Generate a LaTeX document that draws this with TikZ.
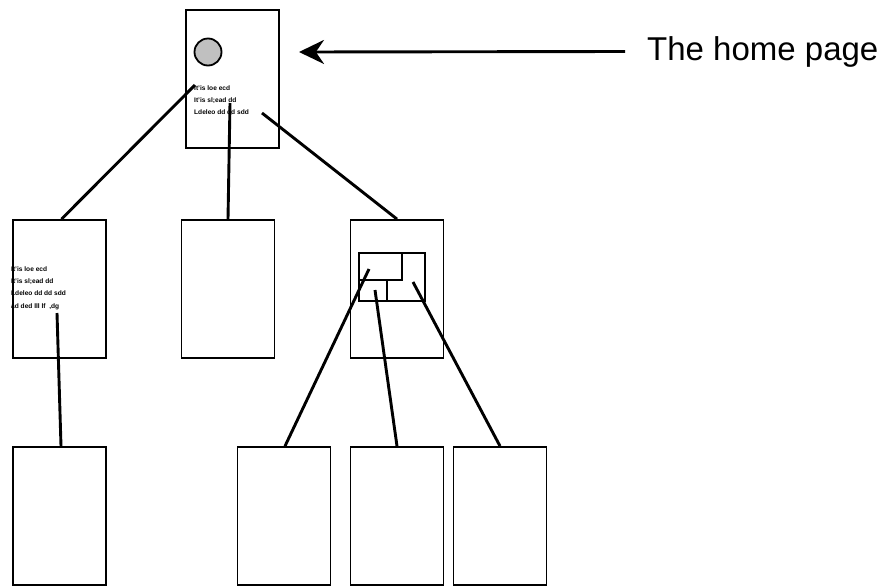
\documentclass[tikz,border=0pt]{standalone}
\usepackage{fontspec}
\setmainfont{Liberation Sans}
\usepackage{tikz}
\usetikzlibrary{arrows.meta}
\tikzset{>={Stealth[length=25pt,width=24pt]}}
\tikzset{
  page/.style={shape=rectangle,draw,line width=1.8pt,minimum width=93pt,minimum height=138pt,inner sep=0pt},
  cell/.style={shape=rectangle,draw,line width=1.8pt,inner sep=0pt},
  link/.style={line width=2.9pt},
  scribble/.style={anchor=north west,inner sep=0pt,align=left,font=\fontsize{6.6}{12.2}\selectfont\bfseries}
}
\definecolor{dotgray}{RGB}{192,192,192}

\begin{document}
\begin{tikzpicture}[x=1pt,y=-1pt]
\useasboundingbox (0,0) rectangle (888,587);

% the pages
\path (232.5,79) node [page] (home) {};
\path (59.5,289) node [page] (pageA) {};
\path (228,289) node [page] (pageB) {};
\path (397,289) node [page] (pageC) {};
\path (59.5,516) node [page] (pageAA) {};
\path (284,516) node [page] (pageCA) {};
\path (397,516) node [page] (pageCB) {};
\path (500,516) node [page] (pageCC) {};

% what is on them
\path (208,52) node [circle,draw,line width=1.8pt,fill=dotgray,minimum size=27pt,inner sep=0pt] (logo) {};
\path (194,85.5) node [scribble] (homeText) {It'is loe ecd\\It'is sl;ead dd\\Ldeleo dd dd sdd};
\path (11,266.5) node [scribble] (pageAText) {It'is loe ecd\\It'is sl;ead dd\\Ldeleo dd dd sdd\\ad ded lll lf \ ,dg};
\path (392,277) node [cell,minimum width=66pt,minimum height=48pt] (menu) {};
\path (380.5,266.5) node [cell,minimum width=43pt,minimum height=27pt] (menuA) {};
\draw [line width=1.8pt] (387,280) -- (387,301);

% where the links start
\coordinate (linkA) at (195,85);
\coordinate (linkB) at (230,103);
\coordinate (linkC) at (262,113);
\coordinate (linkAA) at (57,313);
\coordinate (linkCA) at (369,269);
\coordinate (linkCB) at (375,290);
\coordinate (linkCC) at (413,282);

\draw [link] (linkA) -- ([xshift=2pt]pageA.north);
\draw [link] (linkB) -- (pageB.north);
\draw [link] (linkC) -- (pageC.north);
\draw [link] (linkAA) -- ([xshift=1.5pt]pageAA.north);
\draw [link] (linkCA) -- ([xshift=1pt]pageCA.north);
\draw [link] (linkCB) -- (pageCB.north);
\draw [link] (linkCC) -- (pageCC.north);

% label
\path (625,51.5) node [anchor=west,inner xsep=22pt,inner ysep=0pt,font=\fontsize{33}{40}\selectfont] (homeLabel) {The home page};
\coordinate (tip) at (299,52);
\draw [link,->] (homeLabel.west) -- (tip);

\end{tikzpicture}
\end{document}
